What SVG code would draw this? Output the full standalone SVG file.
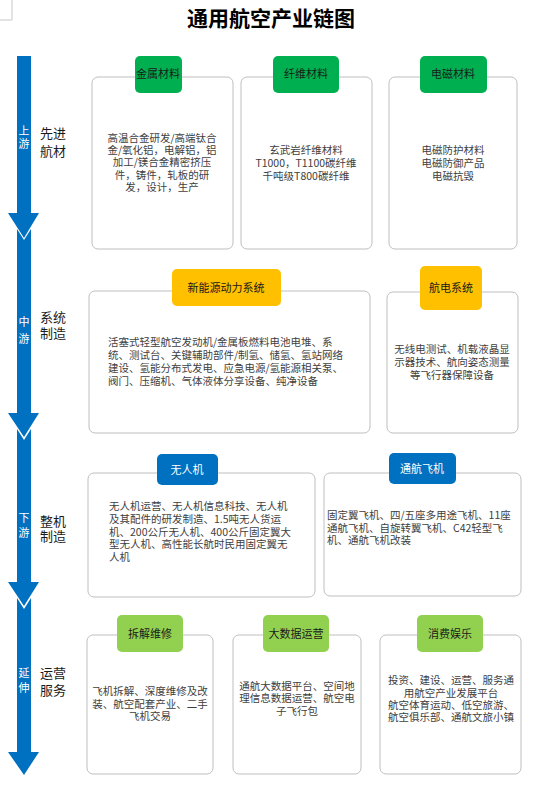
<svg xmlns="http://www.w3.org/2000/svg" width="533" height="788" viewBox="0 0 533 788">
<style>
.bg{fill:#ffffff}
.box{fill:#ffffff;stroke:#bfbfbf;stroke-width:1}
.arrow{fill:#0070c0}
.tabG{fill:#00b050}
.tabY{fill:#ffc000}
.tabB{fill:#0070c0}
.tabL{fill:#92d050}
.tt{font-family:"Noto Sans CJK SC","Noto Sans",sans-serif;font-size:11px;fill:#1a1a1a;text-anchor:middle}
.tw{font-family:"Noto Sans CJK SC","Noto Sans",sans-serif;font-size:11px;fill:#ffffff;text-anchor:middle}
.body{font-family:"Noto Sans CJK SC","Liberation Serif",sans-serif;font-size:10.5px;fill:#404040}
.c{text-anchor:middle}
.side{font-family:"Noto Sans CJK SC","Noto Sans",sans-serif;font-size:13px;fill:#1a1a1a}
.aw{font-family:"Noto Sans CJK SC","Noto Sans",sans-serif;font-size:11px;fill:#ffffff;text-anchor:middle}
.title{font-family:"Noto Sans CJK SC","Noto Sans",sans-serif;font-size:21px;font-weight:bold;fill:#000000;text-anchor:middle}
</style>
<rect class="bg" x="0" y="0" width="533" height="788"/>
<path d="M12 0 V20 H0" fill="none" stroke="#c8c8c8" stroke-width="1"/>
<text class="title" x="271" y="26">通用航空产业链图</text>

<g id="connectors">
<polygon class="arrow" points="17,56 31,56 31,213 39,213 24,238 8,213 17,213"/>
<polygon class="arrow" points="17,229 24,240 31,229 31,413 39,413 24,437 8,413 17,413"/>
<polygon class="arrow" points="17,429 24,440 31,429 31,582 39,582 24,606 8,582 17,582"/>
<polygon class="arrow" points="17,598 24,609 31,598 31,752 39,752 24,775 8,752 17,752"/>
<text class="aw" x="24" y="135">上</text><text class="aw" x="24" y="148">游</text>
<text class="aw" x="24" y="326">中</text><text class="aw" x="24" y="343">游</text>
<text class="aw" x="24" y="522">下</text><text class="aw" x="24" y="537">游</text>
<text class="aw" x="24" y="677">延</text><text class="aw" x="24" y="692">伸</text>
</g>

<g id="stage-labels">
<text class="side" x="40" y="138">先进</text><text class="side" x="40" y="156">航材</text>
<text class="side" x="40" y="322">系统</text><text class="side" x="40" y="338">制造</text>
<text class="side" x="40" y="526">整机</text><text class="side" x="40" y="541">制造</text>
<text class="side" x="40" y="678">运营</text><text class="side" x="40" y="695">服务</text>
</g>

<g id="metal">
<rect class="box" x="92" y="77" width="141" height="172" rx="6"/>
<rect class="tabG" x="135" y="56" width="47" height="37" rx="5"/>
<text class="tt" x="158" y="78">金属材料</text>
<text class="body c" x="162" y="142">高温合金研发/高端钛合</text>
<text class="body c" x="162" y="154">金/氧化铝，电解铝，铝</text>
<text class="body c" x="162" y="166">加工/镁合金精密挤压</text>
<text class="body c" x="162" y="179">件，铸件，轧板的研</text>
<text class="body c" x="162" y="191">发，设计，生产</text>
</g>

<g id="fiber">
<rect class="box" x="241" y="77" width="131" height="172" rx="6"/>
<rect class="tabG" x="273" y="56" width="66" height="37" rx="5"/>
<text class="tt" x="306" y="78">纤维材料</text>
<text class="body c" x="306" y="154">玄武岩纤维材料</text>
<text class="body c" x="306" y="167">T1000，T1100碳纤维</text>
<text class="body c" x="306" y="180">千吨级T800碳纤维</text>
</g>

<g id="em">
<rect class="box" x="389" y="77" width="128" height="172" rx="6"/>
<rect class="tabG" x="420" y="56" width="67" height="37" rx="5"/>
<text class="tt" x="453" y="78">电磁材料</text>
<text class="body c" x="453" y="154">电磁防护材料</text>
<text class="body c" x="453" y="167">电磁防御产品</text>
<text class="body c" x="453" y="180">电磁抗毁</text>
</g>

<g id="power">
<rect class="box" x="89" y="291" width="281" height="142" rx="6"/>
<rect class="tabY" x="172" y="269" width="109" height="37" rx="5"/>
<text class="tt" x="226" y="292">新能源动力系统</text>
<text class="body" x="108" y="346">活塞式轻型航空发动机/金属板燃料电池电堆、系</text>
<text class="body" x="108" y="359">统、测试台、关键辅助部件/制氢、储氢、氢站网络</text>
<text class="body" x="108" y="372">建设、氢能分布式发电、应急电源/氢能源相关泵、</text>
<text class="body" x="108" y="385">阀门、压缩机、气体液体分享设备、纯净设备</text>
</g>

<g id="avionics">
<rect class="box" x="387" y="292" width="131" height="141" rx="6"/>
<rect class="tabY" x="420" y="266" width="62" height="44" rx="5"/>
<text class="tt" x="451" y="292">航电系统</text>
<text class="body c" x="452" y="353">无线电测试、机载液晶显</text>
<text class="body c" x="452" y="366">示器技术、航向姿态测量</text>
<text class="body c" x="452" y="379">等飞行器保障设备</text>
</g>

<g id="uav">
<rect class="box" x="88" y="473" width="227" height="124" rx="6"/>
<rect class="tabB" x="157" y="454" width="61" height="31" rx="5"/>
<text class="tw" x="187" y="474">无人机</text>
<text class="body" x="109" y="510">无人机运营、无人机信息科技、无人机</text>
<text class="body" x="109" y="523">及其配件的研发制造、1.5吨无人货运</text>
<text class="body" x="109" y="536">机、200公斤无人机、400公斤固定翼大</text>
<text class="body" x="109" y="548">型无人机、高性能长航时民用固定翼无</text>
<text class="body" x="109" y="561">人机</text>
</g>

<g id="ga-aircraft">
<rect class="box" x="324" y="473" width="197" height="123" rx="6"/>
<rect class="tabB" x="389" y="453" width="67" height="31" rx="5"/>
<text class="tw" x="422" y="473">通航飞机</text>
<text class="body" x="327" y="519">固定翼飞机、四/五座多用途飞机、11座</text>
<text class="body" x="327" y="532">通航飞机、自旋转翼飞机、C42轻型飞</text>
<text class="body" x="327" y="544">机、通航飞机改装</text>
</g>

<g id="mro">
<rect class="box" x="87" y="635" width="126" height="139" rx="6"/>
<rect class="tabL" x="117" y="615" width="66" height="37" rx="5"/>
<text class="tt" x="150" y="638">拆解维修</text>
<text class="body c" x="150" y="695">飞机拆解、深度维修及改</text>
<text class="body c" x="150" y="708">装、航空配套产业、二手</text>
<text class="body c" x="150" y="720">飞机交易</text>
</g>

<g id="bigdata">
<rect class="box" x="233" y="635" width="128" height="139" rx="6"/>
<rect class="tabL" x="263" y="615" width="66" height="37" rx="5"/>
<text class="tt" x="296" y="638">大数据运营</text>
<text class="body c" x="297" y="690">通航大数据平台、空间地</text>
<text class="body c" x="297" y="702">理信息数据运营、航空电</text>
<text class="body c" x="297" y="715">子飞行包</text>
</g>

<g id="consumer">
<rect class="box" x="380" y="635" width="141" height="139" rx="6"/>
<rect class="tabL" x="417" y="615" width="66" height="37" rx="5"/>
<text class="tt" x="450" y="638">消费娱乐</text>
<text class="body c" x="451" y="684">投资、建设、运营、服务通</text>
<text class="body c" x="451" y="697">用航空产业发展平台</text>
<text class="body c" x="451" y="709">航空体育运动、低空旅游、</text>
<text class="body c" x="451" y="721">航空俱乐部、通航文旅小镇</text>
</g>
</svg>
